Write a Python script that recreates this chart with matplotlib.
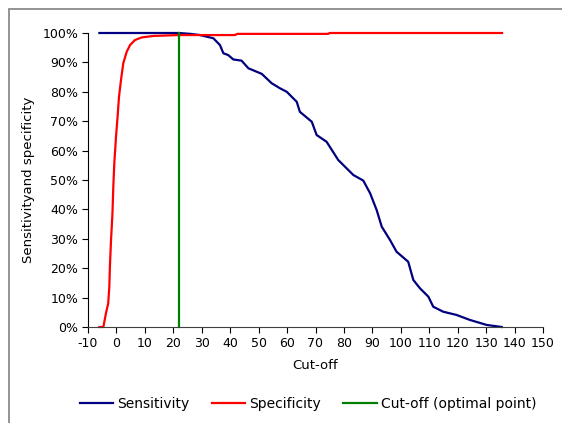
import matplotlib
matplotlib.use("Agg")
from matplotlib import pyplot as plt
from matplotlib.patches import Rectangle
from matplotlib.ticker import PercentFormatter

plt.rcParams['font.family'] = ['DejaVu Sans']
plt.rcParams['axes.unicode_minus'] = False

# Specificity
spec_cut = [-6.0, -4.6, -3.7, -2.9, -2.5, -2.3, -1.9, -1.4, -1.1, -0.75, -0.15, 0.4, 0.9,
            1.6, 2.4, 3.6, 4.8, 6.5, 8.9, 13.0, 21.8, 41.7, 42.5, 74.4, 75.0, 135.6]
spec_val = [0.0, 0.0, 4.6, 8.0, 13.7, 20.5, 29.6, 38.7, 47.7, 55.7, 64.7, 71.5, 78.3,
            84.0, 89.7, 93.6, 95.9, 97.6, 98.5, 99.0, 99.3, 99.3, 99.7, 99.7, 100.0, 100.0]

# Sensitivity
sens_cut = [-6.0, 22.0, 26.0, 29.4, 34.1, 36.4, 37.6, 39.3, 41.1, 44.0, 46.4, 51.1, 54.6,
            57.5, 59.9, 63.4, 64.5, 68.7, 70.4, 73.9, 78.0, 83.3, 86.8, 89.2, 91.5, 93.3,
            96.2, 98.5, 102.6, 104.4, 106.7, 109.7, 111.4, 114.9, 119.6, 124.3, 130.2, 135.5]
sens_val = [100.0, 100.0, 99.7, 99.3, 98.2, 95.9, 93.1, 92.5, 91.0, 90.6, 88.0, 86.1, 82.9,
            81.2, 80.0, 76.6, 73.2, 69.8, 65.3, 63.0, 56.8, 51.7, 49.8, 45.5, 39.8, 34.1,
            29.6, 25.6, 22.2, 16.0, 13.2, 10.3, 6.9, 5.2, 4.1, 2.4, 0.7, 0.0]

optimal_cut = 22.0

fig = plt.figure(figsize=(5.62, 4.23), dpi=100, facecolor='white')
ax = fig.add_axes([88/562, 1 - 327/423, 455/562, 294/423])

ax.plot(sens_cut, [v/100 for v in sens_val], color='#000080', lw=1.6,
        label='Sensitivity', clip_on=False)
ax.plot(spec_cut, [v/100 for v in spec_val], color='#FF0000', lw=1.6,
        label='Specificity', clip_on=False)
ax.plot([optimal_cut, optimal_cut], [0, 1], color='#008000', lw=1.6,
        label='Cut-off (optimal point)', clip_on=False)

ax.set_xlim(-10, 150)
ax.set_ylim(0, 1)
ax.set_xticks(range(-10, 151, 10))
ax.set_yticks([i/10 for i in range(11)])
ax.yaxis.set_major_formatter(PercentFormatter(1.0, decimals=0))
ax.tick_params(labelsize=9, length=4, color='black', direction='out', pad=3)
for s in ['top', 'right']:
    ax.spines[s].set_visible(False)
ax.spines['left'].set_color('black')
ax.spines['bottom'].set_color('#404040')

ax.set_xlabel('Cut-off', fontsize=9.5, labelpad=7)
ax.set_ylabel('Sensitivityand specificity', fontsize=9.5, labelpad=5)

fig.legend(loc='center', bbox_to_anchor=(308/562, 1 - 404/423), ncol=3, frameon=False,
           fontsize=10, handlelength=2.4, columnspacing=1.6, handletextpad=0.3,
           borderaxespad=0, borderpad=0)

# chart frame, cut at the right and bottom edges
fig.add_artist(Rectangle((9/562, -0.1), 1.2, 1 - 9/423 + 0.1, transform=fig.transFigure,
                         fill=False, edgecolor='#808080', lw=1.2))

fig.savefig('out.png', dpi=100, facecolor='white')
plt.close(fig)
